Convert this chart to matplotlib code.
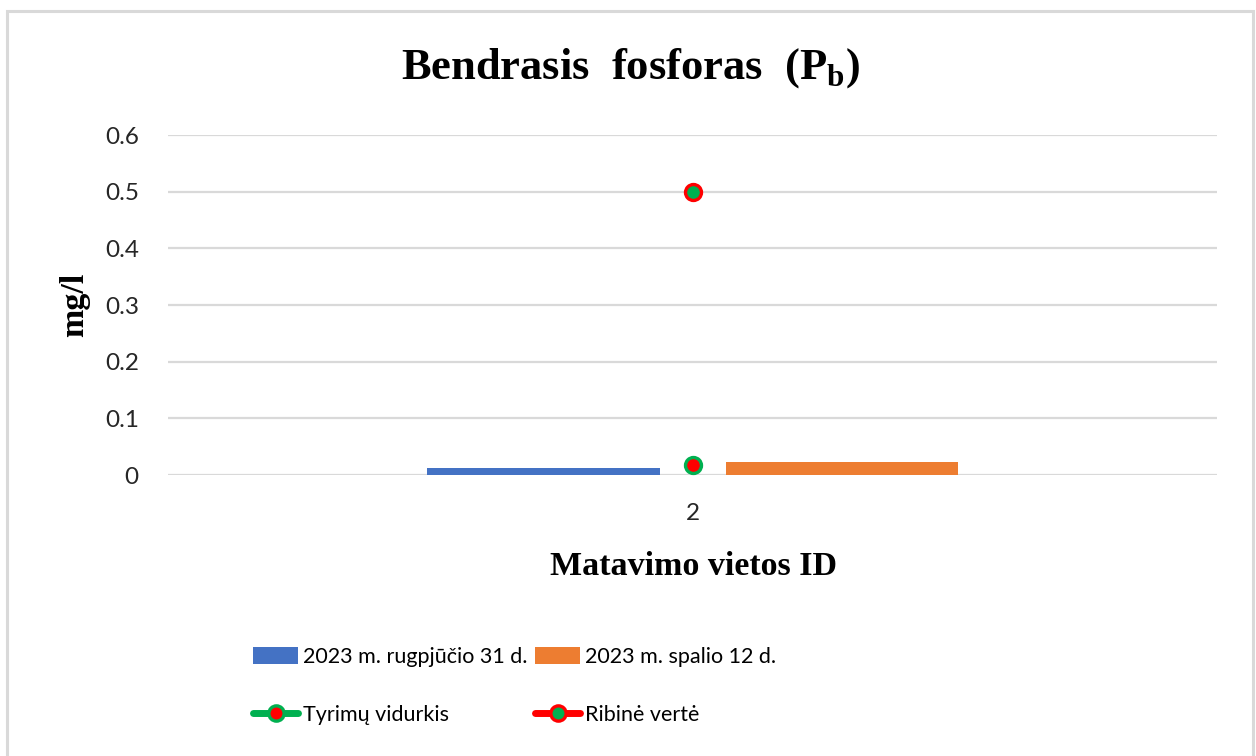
import matplotlib.pyplot as plt
from matplotlib.lines import Line2D
from matplotlib.patches import Rectangle, Patch

plt.rcParams['mathtext.fontset'] = 'custom'
plt.rcParams['mathtext.rm'] = 'Liberation Serif'
plt.rcParams['mathtext.bf'] = 'Liberation Serif:bold'

# data
categories = ['2']
series_names = ['2023 m. rugpjūčio 31 d.', '2023 m. spalio 12 d.']
series_values = [[0.012], [0.023]]
series_colors = ['#4472c4', '#ed7d31']
mean_values = [0.0175]
limit_values = [0.5]
y_ticks = [0, 0.1, 0.2, 0.3, 0.4, 0.5, 0.6]

W, H = 1256, 756
fig = plt.figure(figsize=(W / 100, H / 100), dpi=100)

# chart border (bottom edge is cut off in the original)
fig.patches.append(Rectangle((6.5 / W, -0.05), (1253 - 6.5) / W, 1.05 - 11.5 / H,
                             transform=fig.transFigure, fill=False,
                             edgecolor='#d9d9d9', linewidth=2.2))

ax = fig.add_axes([168 / W, (H - 475) / H, 1049 / W, 340 / H])

bar_w = 0.222
offsets = [-0.142, 0.1425]
x = list(range(len(categories)))
for vals, off, col in zip(series_values, offsets, series_colors):
    ax.bar([i + off for i in x], vals, width=bar_w, color=col, zorder=3)

ax.plot(x, mean_values, linestyle='none', marker='o', markersize=11.5,
        markerfacecolor='#ff0000', markeredgecolor='#00b050', markeredgewidth=2.4, zorder=4)
ax.plot(x, limit_values, linestyle='none', marker='o', markersize=11.5,
        markerfacecolor='#00b050', markeredgecolor='#ff0000', markeredgewidth=2.4, zorder=4)

ax.set_xlim(-0.5, 0.5)
ax.set_ylim(0, 0.6)
ax.set_yticks(y_ticks)
ax.set_yticklabels([f'{v:g}' for v in y_ticks])
ax.set_xticks(x)
ax.set_xticklabels(categories)
ax.tick_params(axis='both', length=0, labelsize=17.5, labelcolor='#262626')
ax.tick_params(axis='y', pad=21)
ax.tick_params(axis='x', pad=20)
for lab in ax.get_xticklabels() + ax.get_yticklabels():
    lab.set_family('Lato')
for s in ax.spines.values():
    s.set_visible(False)
ax.grid(axis='y', color='#d9d9d9', linewidth=1.6, zorder=0)
ax.set_axisbelow(True)

fig.text(630 / W, (H - 79) / H, r'Bendrasis  fosforas  (P$_\mathbf{b}$)', ha='center', va='baseline',
         family='Liberation Serif', weight='bold', fontsize=32)
fig.text(693 / W, (H - 575) / H, 'Matavimo vietos ID', ha='center', va='baseline',
         family='Liberation Serif', weight='bold', fontsize=24.5)
fig.text(75 / W, (H - 305) / H, 'mg/l', ha='center', va='center', rotation=90,
         family='Liberation Serif', weight='bold', fontsize=24.5)

handles = [
    Patch(facecolor=series_colors[0]),
    Line2D([], [], color='#00b050', linewidth=5, marker='o', markersize=11,
           markerfacecolor='#ff0000', markeredgecolor='#00b050', markeredgewidth=2.4,
           solid_capstyle='round'),
    Patch(facecolor=series_colors[1]),
    Line2D([], [], color='#ff0000', linewidth=5, marker='o', markersize=11,
           markerfacecolor='#00b050', markeredgecolor='#ff0000', markeredgewidth=2.4,
           solid_capstyle='round'),
]
labels = [series_names[0], 'Tyrimų vidurkis', series_names[1], 'Ribinė vertė']
fig.legend(handles, labels, ncol=2, loc='upper left', bbox_to_anchor=(253 / W, (H - 647) / H),
           frameon=False, prop={'family': 'Lato', 'size': 15.5}, handlelength=2.1,
           handleheight=0.85, handletextpad=0.22, columnspacing=0.35, labelspacing=1.75,
           borderpad=0, borderaxespad=0)

fig.savefig('out.png', dpi=100)
